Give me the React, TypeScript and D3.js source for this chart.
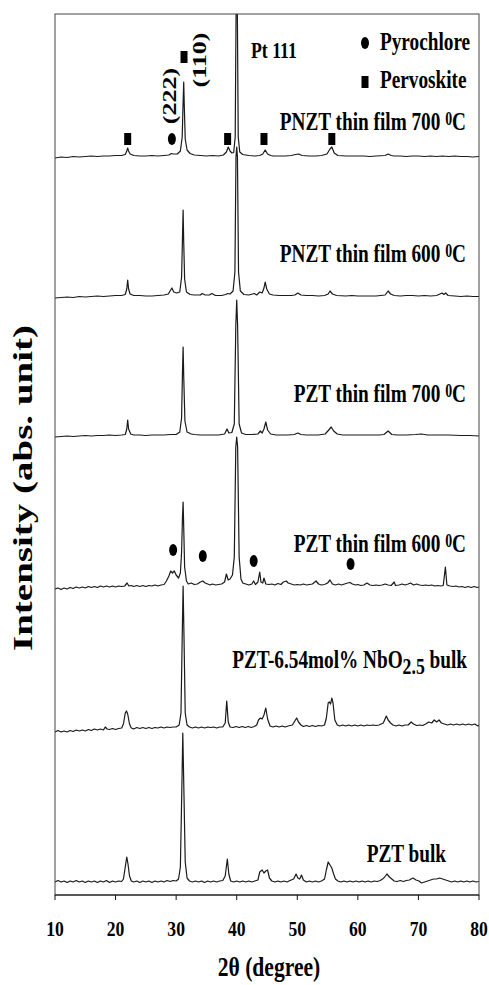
import React from "react";
import * as d3 from "d3";

type P = [number, number];

// x-axis ticks (2θ, degree)
const xTicks = [10, 20, 30, 40, 50, 60, 70, 80];

// series labels (top to bottom) and their vertical offsets (intensity units)
const seriesLabels = [
  "PNZT thin film 700 ",
  "PNZT thin film 600 ",
  "PZT thin film 700 ",
  "PZT thin film 600 ",
  "PZT-6.54mol% NbO",
  "PZT bulk",
];
const seriesOffsets = [738, 598, 459, 308, 167, 13];

// ---- series values: [2θ, intensity above own baseline] ----
const pnzt700: P[] = [
  [10, -1], [11, 0], [12, -0.5], [13, 0.5], [14, 0], [15, 0.5], [16, 1], [17, 0.5], [18, 1], [19, 1], [20, 1.5], [21, 1.5],
  [21.6, 2.5], [21.85, 6], [22.0, 9], [22.15, 6], [22.4, 3], [23, 1.5], [24, 1], [25, 1], [26, 1.5], [27, 1], [28, 1.5],
  [28.8, 2], [29.2, 3.5], [29.5, 3], [30.2, 3], [30.7, 6], [31.0, 20], [31.15, 55], [31.25, 75], [31.35, 50], [31.5, 18],
  [31.8, 7], [32.3, 3.5], [33, 2], [34, 1.5], [35, 1], [36, 1.5], [37, 1], [37.8, 2], [38.3, 5], [38.6, 10], [38.9, 6],
  [39.2, 4], [39.5, 4.5], [39.75, 20], [39.9, 150], [40.0, 260], [40.1, 150], [40.25, 20], [40.5, 5], [41, 2.5], [42, 1.5],
  [43, 1], [43.8, 1.5], [44.3, 3], [44.7, 7], [45.1, 3], [45.6, 1.5], [46, 1], [47, 1], [48, 1], [49, 1.5], [49.7, 2.5],
  [50.2, 3], [50.8, 1.5], [52, 1], [53, 1], [54, 1.5], [54.9, 3], [55.4, 8], [55.7, 10], [56.1, 4], [56.7, 1.5], [58, 1],
  [59, 1], [60, 1], [61, 1], [62, 0.5], [63, 1], [64.5, 1.5], [65, 3], [65.5, 1.5], [66, 1], [67, 1], [68, 0.5], [69, 1],
  [70, 1], [71, 0.5], [72, 1], [73, 0.5], [74, 1], [75, 0.5], [76, 1], [77, 0.5], [78, 0.5], [79, 0], [80, 0.5],
];

const pnzt600: P[] = [
  [10, -1], [11, -0.5], [12, 0], [13, -0.5], [14, 0.5], [15, 0], [16, 0.5], [17, 1], [18, 0.5], [19, 1], [20, 1.5], [21, 1.5],
  [21.6, 2.5], [21.85, 8], [22.0, 17], [22.15, 8], [22.4, 3], [23, 1.5], [24, 1.5], [25, 1], [26, 1], [27, 1.5], [28, 2],
  [28.7, 3], [29.1, 7], [29.3, 9], [29.6, 5], [30.1, 4], [30.6, 5], [30.9, 20], [31.05, 60], [31.15, 87], [31.25, 55],
  [31.4, 18], [31.7, 5], [32.3, 2.5], [33, 2], [34, 2], [34.3, 3.5], [34.8, 2], [35.5, 2], [35.9, 3.5], [36.5, 1.5],
  [37.5, 1.5], [38.2, 2.5], [38.5, 3.5], [38.9, 3], [39.4, 6], [39.7, 25], [39.88, 140], [40.0, 150], [40.12, 140],
  [40.3, 25], [40.6, 6], [41.2, 2.5], [42, 2], [42.9, 3.5], [43.3, 2], [43.8, 5], [44.2, 4], [44.5, 9], [44.7, 15],
  [44.95, 8], [45.4, 3], [46, 2], [47, 1.5], [48, 1.5], [49, 1.5], [49.6, 2], [50.1, 4], [50.6, 2], [51.5, 1.5],
  [52.5, 1.5], [53.5, 1], [54.5, 1.5], [55.1, 3], [55.4, 6], [55.8, 3], [56.5, 1.5], [58, 1], [59, 1.5], [60, 1], [61, 1],
  [62, 1], [63, 1], [64.5, 2], [65.0, 6], [65.4, 3], [66, 1.5], [67, 1], [68, 1.5], [69, 1.5], [70, 1], [71, 1.5], [72, 1],
  [73, 1.5], [73.9, 4], [74.2, 2.5], [74.5, 4], [74.9, 1.5], [76, 1], [77, 0.5], [78, 1], [79, 0.5], [80, 0.5],
];

const pzt700: P[] = [
  [10, -1], [11, -0.5], [12, 0], [13, -0.5], [14, 0], [15, 0.5], [16, 0], [17, 0.5], [18, 0.5], [19, 1], [20, 0.5], [21, 1],
  [21.6, 1.5], [21.85, 7], [22.0, 16], [22.15, 7], [22.5, 2], [23, 1], [24, 1], [25, 0.5], [26, 1], [27, 1], [28, 1],
  [29, 1.5], [30, 1.5], [30.6, 4], [30.9, 18], [31.05, 65], [31.15, 89], [31.25, 60], [31.45, 15], [31.8, 4], [32.5, 2],
  [33, 1.5], [34, 1], [35, 1], [36, 1], [37, 1], [38.0, 2], [38.4, 7], [38.7, 3], [39.2, 3.5], [39.6, 12], [39.85, 110],
  [40.0, 136], [40.15, 110], [40.4, 12], [40.8, 3], [41.5, 1.5], [42.5, 1.5], [43.5, 2], [43.9, 5], [44.2, 3], [44.5, 7],
  [44.8, 14], [45.1, 6], [45.6, 2], [46.5, 1], [47.5, 1], [48.5, 1], [49.5, 1.5], [50.1, 3], [50.6, 1.5], [51.5, 1],
  [52.5, 1], [53.5, 1], [54.6, 2], [55.2, 6], [55.6, 9], [56.0, 5], [56.6, 2], [57.5, 1], [59, 1], [60.5, 1], [62, 1],
  [63.5, 1], [64.3, 1.5], [65.0, 5], [65.6, 1.5], [66.5, 1], [68, 1], [69.5, 1.5], [70.5, 2], [71.5, 1], [73, 1], [75, 1],
  [77, 0.5], [78.5, 0.5], [80, 0],
];

const pzt600: P[] = [
  [10, -2], [10.5, -1], [11, -2.5], [11.5, -1], [12, -2], [12.5, -0.5], [13, -1.5], [13.5, 0], [14, -1], [14.5, 0],
  [15, -1], [15.5, 0.5], [16, -0.5], [16.5, 0.5], [17, -0.5], [17.5, 1], [18, 0], [18.5, 1], [19, 0], [19.5, 1], [20, 0],
  [20.5, 1], [21, 0.5], [21.5, 1], [21.9, 4], [22.2, 1], [22.6, 1.5], [23, 0.5], [23.5, 1.5], [24, 0.5], [24.5, 1.5],
  [25, 0.5], [25.5, 1.5], [26, 1], [26.5, 2], [27, 1], [27.5, 2], [28, 2.5], [28.4, 6], [28.8, 11], [29.1, 16], [29.4, 14],
  [29.7, 16], [30.0, 12], [30.4, 9], [30.7, 14], [30.9, 35], [31.05, 70], [31.15, 85], [31.25, 60], [31.4, 20], [31.7, 6],
  [32, 3], [32.5, 4], [33, 2.5], [33.5, 3], [34, 5], [34.4, 6], [34.8, 4], [35.2, 3], [35.6, 2], [36, 3], [36.5, 2],
  [37, 2.5], [37.5, 3], [38.0, 5], [38.3, 13], [38.6, 7], [38.9, 8], [39.3, 12], [39.6, 30], [39.85, 140], [40.0, 150],
  [40.15, 140], [40.4, 30], [40.7, 8], [41, 4], [41.5, 3], [42, 2], [42.5, 3], [42.8, 6], [43.1, 2.5], [43.5, 5],
  [43.8, 15], [44.0, 5], [44.3, 4], [44.5, 9], [44.8, 3], [45.3, 2.5], [45.8, 3], [46.3, 2], [46.8, 3.5], [47.3, 2.5],
  [47.7, 5], [48.2, 6], [48.5, 4], [49, 3], [49.5, 2], [50, 2.5], [50.5, 2], [51, 3], [51.5, 2], [52, 2.5], [52.5, 3],
  [53.1, 6], [53.5, 3], [54, 2], [54.5, 2.5], [55.0, 4], [55.4, 7], [55.8, 3], [56.3, 2], [56.8, 3], [57.3, 2], [57.8, 3],
  [58.3, 4], [58.7, 4.5], [59.1, 3], [59.6, 2], [60, 2.5], [60.5, 1.5], [61, 2], [61.5, 4], [62, 2], [62.5, 1.5], [63, 2],
  [63.5, 1.5], [64, 2], [64.5, 3], [65, 2], [65.5, 1.5], [66.0, 5], [66.2, 1.5], [66.8, 2], [67.3, 3], [67.8, 2],
  [68.3, 3], [68.7, 4], [69.2, 2], [69.7, 3], [70.2, 2], [70.7, 1.5], [71.2, 2], [71.7, 1.5], [72.2, 2], [72.7, 1],
  [73.2, 1.5], [73.7, 1], [74.1, 1.5], [74.45, 20], [74.7, 2], [75.2, 1], [75.7, 0.5], [76.2, 1], [76.7, 0], [77.2, 0.5],
  [77.7, -0.5], [78.2, 0.5], [78.7, -0.5], [79.2, 0.5], [79.7, -0.5], [80, 0],
];

const pztNb: P[] = [
  [10, -4], [10.5, -2.5], [11, -4], [11.5, -3], [12, -4], [12.5, -2.5], [13, -3.5], [13.5, -2], [14, -3], [14.5, -2],
  [15, -3], [15.5, -1.5], [16, -2.5], [16.5, -1], [17, -2], [17.5, -1], [18, -2], [18.3, 1], [18.6, -1], [19, -1.5],
  [19.5, -0.5], [20, -1.5], [20.5, -0.5], [21, 0], [21.3, 4], [21.6, 15], [21.8, 17], [22.0, 14], [22.3, 4], [22.6, 0],
  [23, -1], [23.5, 0.5], [24, -0.5], [24.5, 0.5], [25, -0.5], [25.5, 0.5], [26, -0.5], [26.5, 0.5], [27, 0], [27.5, 1],
  [28, 0], [28.5, 1], [29, 0.5], [29.5, 1], [30, 1], [30.5, 3], [30.8, 15], [31.0, 90], [31.15, 142], [31.3, 90],
  [31.5, 15], [31.8, 3], [32.2, 1], [32.7, 0], [33.2, 1], [33.7, 0], [34.2, 1], [34.7, 0], [35.2, 1], [35.7, 0.5],
  [36.2, 1], [36.7, 0], [37.2, 1], [37.7, 1], [38.1, 5], [38.35, 27], [38.6, 6], [38.9, 1], [39.4, 0.5], [39.9, 1.5],
  [40.4, 0.5], [40.9, 1.5], [41.4, 0.5], [41.9, 1.5], [42.4, 0.5], [42.9, 1.5], [43.3, 3], [43.6, 8], [43.9, 10],
  [44.2, 9], [44.5, 13], [44.8, 20], [45.1, 9], [45.5, 2], [46, 1], [46.5, 2], [47, 1], [47.5, 2], [48, 1], [48.5, 2],
  [49.2, 3], [49.6, 7], [49.9, 10], [50.2, 6], [50.6, 3], [51, 1.5], [51.5, 2.5], [52, 1.5], [52.5, 2.5], [53, 1.5],
  [53.5, 2.5], [54, 2], [54.5, 3], [54.8, 10], [55.1, 25], [55.3, 26], [55.5, 24], [55.7, 30], [55.9, 25], [56.2, 8],
  [56.6, 3], [57, 2], [57.5, 3], [58, 2], [58.5, 3], [59, 2], [59.5, 3], [60, 2], [60.5, 3], [61, 2], [61.5, 3],
  [62, 2.5], [62.5, 3], [63, 2.5], [63.5, 3], [64.2, 5], [64.7, 12], [65.0, 8], [65.4, 5], [65.8, 3], [66.3, 2],
  [66.8, 3], [67.3, 2], [67.8, 3], [68.3, 3], [68.8, 6], [69.2, 4], [69.7, 2.5], [70.2, 3], [70.7, 2.5], [71.2, 4],
  [71.7, 6], [72.2, 5], [72.6, 8], [73, 6], [73.4, 8], [73.8, 5], [74.3, 4], [74.8, 3], [75.3, 4], [75.8, 3], [76.3, 4],
  [76.8, 3], [77.3, 4], [77.8, 3], [78.3, 4], [78.8, 3], [79.3, 4], [79.8, 2], [80, 3],
];

const pztBulk: P[] = [
  [10, 0], [10.5, 1.5], [11, 0], [11.5, 1], [12, -0.5], [12.5, 1], [13, 0], [13.5, 1.5], [14, 0], [14.5, 1], [15, -0.5],
  [15.5, 1], [16, 0], [16.5, 1], [17, -0.5], [17.5, 1], [18, 0], [18.5, 1.5], [19, -0.5], [19.5, 1], [20, 0], [20.5, 1],
  [21, 0.5], [21.3, 3], [21.6, 15], [21.85, 25], [22.05, 18], [22.3, 6], [22.6, 1], [23, 0], [23.5, 1], [24, -0.5],
  [24.5, 1], [25, 0], [25.5, 1], [26, -0.5], [26.5, 1], [27, 0], [27.5, 1], [28, 0], [28.5, 1.5], [29, 0.5], [29.5, 1.5],
  [30, 1], [30.4, 3], [30.7, 15], [30.9, 80], [31.1, 149], [31.3, 85], [31.5, 20], [31.8, 4], [32.2, 1], [32.7, 0],
  [33.2, 1], [33.7, 0], [34.2, 1], [34.7, -0.5], [35.2, 1], [35.7, 0], [36.2, 1], [36.7, 0], [37.2, 1], [37.7, 1.5],
  [38.1, 6], [38.45, 23], [38.7, 8], [39, 1], [39.5, 0], [40, 1], [40.5, 0], [41, 1], [41.5, 0], [42, 1], [42.5, 0],
  [43, 1], [43.5, 2], [43.8, 10], [44.2, 12], [44.5, 9], [44.8, 11], [45.1, 12], [45.4, 4], [45.8, 1], [46.3, 0],
  [46.8, 1], [47.3, 0], [47.8, 1], [48.3, 0], [48.8, 1.5], [49.4, 3], [49.8, 8], [50.1, 4], [50.4, 3], [50.7, 7], [51, 2],
  [51.5, 0], [52, 1], [52.5, 0], [53, 1], [53.5, 0], [54, 1], [54.5, 3], [54.8, 12], [55.1, 20], [55.4, 17], [55.7, 14],
  [56, 8], [56.3, 3], [56.7, 1], [57.2, 0], [57.7, 1], [58.2, 0], [58.7, 1], [59.2, 0], [59.7, 1], [60.2, 0], [60.7, 1],
  [61.2, 0], [61.7, 1], [62.2, 0], [62.7, 1], [63.2, 0.5], [63.7, 1.5], [64.3, 4], [64.8, 8], [65.2, 5], [65.6, 3],
  [66, 1], [66.5, 0.5], [67, 1.5], [67.5, 0.5], [68, 1.5], [68.5, 2], [69.1, 4], [69.6, 2], [70.1, 1], [70.5, -1],
  [71, 0], [71.5, 1], [72, 2], [72.5, 3], [73, 3], [73.5, 4], [74, 3], [74.5, 2], [75, 1], [75.5, 0], [76, 1], [76.5, 0],
  [77, 1], [77.5, 0], [78, 1], [78.5, 0], [79, 1], [79.5, 0], [80, 0.5],
];

const seriesData: P[][] = [pnzt700, pnzt600, pzt700, pzt600, pztNb, pztBulk];

// phase markers: [2θ, height above the series baseline]
const perovskiteMarks: P[] = [[22.0, 18], [31.3, 100], [38.5, 18], [44.5, 18], [55.7, 18]]; // on PNZT 700
const pyroMarksTop: P[] = [[29.3, 18]]; // on PNZT 700
const pyroMarks600: P[] = [[29.5, 37], [34.4, 31], [42.8, 26], [58.8, 23]]; // on PZT 600

const FONT = "'Liberation Serif', 'Times New Roman', Times, serif";

const L = 55, R = 479, T = 14, B = 895;

function SText(props: {
  x: number; y: number; size: number; sx?: number; anchor?: string; rotate?: boolean; children: React.ReactNode; weight?: string;
}) {
  const { x, y, size, sx = 0.77, anchor = "start", rotate = false, children, weight = "bold" } = props;
  return (
    <text
      transform={`translate(${x},${y}) scale(${sx},1)${rotate ? " rotate(-90)" : ""}`}
      fontSize={size}
      fontFamily={FONT}
      fontWeight={weight}
      textAnchor={anchor}
      fill="#000"
    >
      {children}
    </text>
  );
}

export default function App() {
  const x = d3.scaleLinear().domain([10, 80]).range([L, R]);
  const y = d3.scaleLinear().domain([0, 881]).range([B, T]);
  const line = d3.line<P>().x((d) => x(d[0])).y((d) => y(d[1]));

  const labelRise = [27, 35, 34, 35, 60, 20];

  const square = (cx: number, cy: number, k: string) => (
    <rect key={k} x={cx - 3.5} y={cy - 6} width={7} height={12} fill="#000" />
  );
  const dot = (cx: number, cy: number, k: string) => (
    <ellipse key={k} cx={cx} cy={cy} rx={4} ry={6} fill="#000" />
  );

  return (
    <svg width={489} height={985} style={{ position: "absolute", left: 0, top: 0, background: "#fff" }}>
      <defs>
        <clipPath id="plotclip">
          <rect x={L} y={T} width={R - L} height={B - T} />
        </clipPath>
      </defs>
      <rect x={0} y={0} width={489} height={985} fill="#fff" />

      {/* curves */}
      <g clipPath="url(#plotclip)">
        {seriesData.map((s, i) => (
          <path
            key={i}
            d={line(s.map(([t, v]) => [t, v + seriesOffsets[i]] as P)) || ""}
            fill="none"
            stroke="#1a1a1a"
            strokeWidth={1.2}
            strokeLinejoin="round"
          />
        ))}
      </g>

      {/* frame */}
      <rect x={L} y={T} width={R - L} height={B - T} fill="none" stroke="#444" strokeWidth={1} />
      <line x1={L} x2={R} y1={B} y2={B} stroke="#111" strokeWidth={1} />

      {/* x ticks */}
      {xTicks.map((t) => (
        <g key={t}>
          <line x1={x(t)} x2={x(t)} y1={B} y2={B + 5} stroke="#111" strokeWidth={1} />
          <SText x={x(t)} y={936} size={22} sx={0.8} anchor="middle">{t}</SText>
        </g>
      ))}

      {/* axis titles */}
      <SText x={(L + R) / 2 + 2} y={976} size={27} sx={0.8} anchor="middle">2θ (degree)</SText>
      <SText x={32} y={488} size={39} sx={0.72} anchor="middle" rotate>Intensity (abs. unit)</SText>

      {/* series labels */}
      {seriesLabels.map((lab, i) => {
        const by = y(seriesOffsets[i]) - labelRise[i];
        if (i < 4) {
          return (
            <SText key={i} x={466} y={by} size={25} anchor="end">
              {lab}
              <tspan fontSize={18} dy={-5}>0</tspan>
              <tspan dy={5}>C</tspan>
            </SText>
          );
        }
        if (i === 4) {
          return (
            <SText key={i} x={467} y={by} size={25} anchor="end">
              {lab}
              <tspan fontSize={23} dy={6}>2.5</tspan>
              <tspan dy={-6}> bulk</tspan>
            </SText>
          );
        }
        return (
          <SText key={i} x={446} y={by} size={25} anchor="end">{lab}</SText>
        );
      })}

      {/* markers */}
      {perovskiteMarks.map(([t, h], i) => square(x(t), y(h + seriesOffsets[0]), "pv" + i))}
      {pyroMarksTop.map(([t, h], i) => dot(x(t), y(h + seriesOffsets[0]), "pt" + i))}
      {pyroMarks600.map(([t, h], i) => dot(x(t), y(h + seriesOffsets[3]), "p6" + i))}

      {/* annotations */}
      <SText x={176} y={96} size={26} sx={0.75} anchor="middle" rotate>(222)</SText>
      <SText x={206} y={60} size={26} sx={0.75} anchor="middle" rotate>(110)</SText>
      <SText x={251} y={58} size={23}>Pt 111</SText>

      {/* legend */}
      {dot(365, 43, "lg1")}
      {square(365, 82, "lg2")}
      <SText x={380} y={50} size={25}>Pyrochlore</SText>
      <SText x={380} y={88} size={25}>Pervoskite</SText>
    </svg>
  );
}
